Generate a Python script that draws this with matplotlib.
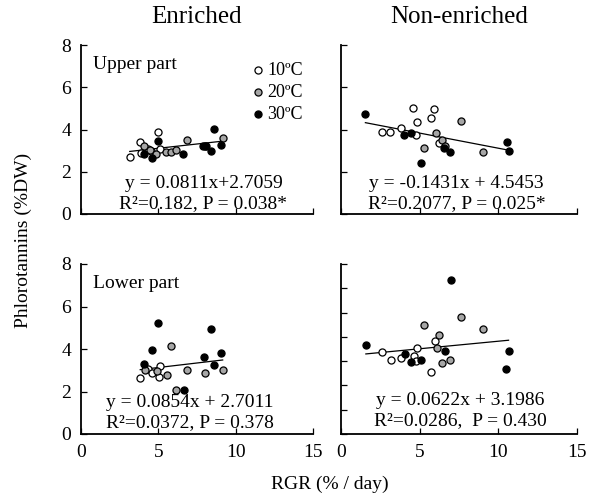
import matplotlib
matplotlib.use("Agg")
import matplotlib.pyplot as plt
import numpy as np

plt.rcParams['font.family'] = ['Liberation Serif', 'DejaVu Serif']

# ---------------- data ----------------
# Upper part, Enriched
ue_x10 = [3.15, 3.79, 3.88, 4.52, 5.0, 5.09, 4.35]
ue_y10 = [2.72, 3.40, 2.88, 3.0, 3.90, 3.07, 3.1]
ue_x20 = [4.07, 4.45, 4.87, 5.48, 5.8, 6.12, 6.87, 8.02, 9.16]
ue_y20 = [3.2, 3.05, 2.83, 2.92, 2.95, 3.03, 3.52, 3.22, 3.58]
ue_x30 = [4.09, 4.61, 5.0, 6.61, 7.89, 8.06, 8.42, 8.63, 9.03]
ue_y30 = [2.83, 2.67, 3.47, 2.84, 3.22, 3.22, 2.98, 4.01, 3.27]

# Upper part, Non-enriched
un_x10 = [2.6, 3.1, 3.8, 4.6, 4.8, 4.75, 5.7, 5.9, 6.2]
un_y10 = [3.87, 3.9, 4.08, 5.0, 4.35, 3.76, 4.56, 4.98, 3.36]
un_x20 = [5.25, 6.05, 6.4, 6.6, 7.65, 9.05]
un_y20 = [3.11, 3.84, 3.48, 3.24, 4.38, 2.95]
un_x30 = [1.55, 4.0, 4.45, 5.1, 6.55, 6.95, 10.55, 10.65]
un_y30 = [4.75, 3.75, 3.84, 2.42, 3.14, 2.95, 3.42, 2.97]

# Lower part, Enriched
le_x10 = [3.83, 4.35, 4.56, 5.05, 5.14]
le_y10 = [2.62, 3.05, 2.87, 2.7, 3.2]
le_x20 = [4.13, 4.9, 5.57, 5.79, 6.13, 6.88, 8.04, 9.16]
le_y20 = [3.03, 2.95, 2.76, 4.15, 2.05, 3.03, 2.87, 3.0]
le_x30 = [4.08, 4.62, 4.99, 6.65, 7.94, 8.43, 8.6, 9.05]
le_y30 = [3.28, 3.93, 5.23, 2.09, 3.62, 4.95, 3.23, 3.81]

# Lower part, Non-enriched
ln_x10 = [2.6, 3.15, 3.8, 4.65, 4.75, 4.85, 5.75, 5.95]
ln_y10 = [3.39, 3.03, 3.12, 3.22, 3.02, 3.53, 2.56, 3.83]
ln_x20 = [5.27, 6.08, 6.22, 6.4, 6.9, 7.65, 9.05]
ln_y20 = [4.49, 3.55, 4.07, 2.91, 3.05, 4.83, 4.31]
ln_x30 = [1.58, 4.05, 4.43, 5.1, 6.58, 6.96, 10.51, 10.65]
ln_y30 = [3.66, 3.28, 2.98, 3.05, 3.43, 6.36, 2.69, 3.42]

# regression coefficients (slope, intercept)
fit_ue = (0.0811, 2.7059)
fit_un = (-0.1431, 4.5453)
fit_le = (0.0854, 2.7011)
fit_ln = (0.0622, 3.1986)

eq_ue = ["y = 0.0811x+2.7059", "R²=0.182, P = 0.038*"]
eq_un = ["y = -0.1431x + 4.5453", "R²=0.2077, P = 0.025*"]
eq_le = ["y = 0.0854x + 2.7011", "R²=0.0372, P = 0.378"]
eq_ln = ["y = 0.0622x + 3.1986", "R²=0.0286,  P = 0.430"]

series_labels = ["10ºC", "20ºC", "30ºC"]
col_titles = ["Enriched", "Non-enriched"]
row_labels = ["Upper part", "Lower part"]
x_ticks = [0, 5, 10, 15]

# ---------------- figure ----------------
W, H = 589, 499
fig = plt.figure(figsize=(W / 100, H / 100), dpi=100)

def ax_rect(l, t, r, b):
    return [l / W, 1 - b / H, (r - l) / W, (b - t) / H]

ax_ue = fig.add_axes(ax_rect(81, 45, 313, 214))
ax_un = fig.add_axes(ax_rect(341, 45, 577, 214))
ax_le = fig.add_axes(ax_rect(81, 264, 313, 434))
ax_ln = fig.add_axes(ax_rect(341, 264, 577, 434))

face = ['white', '#a6a6a6', 'black']

panels = [
    (ax_ue, [(ue_x10, ue_y10), (ue_x20, ue_y20), (ue_x30, ue_y30)], fit_ue, eq_ue, (0.528, 0.154, 0.036), 8, 2),
    (ax_un, [(un_x10, un_y10), (un_x20, un_y20), (un_x30, un_y30)], fit_un, eq_un, (0.489, 0.154, 0.036), 8, 2),
    (ax_le, [(le_x10, le_y10), (le_x20, le_y20), (le_x30, le_y30)], fit_le, eq_le, (0.47, 0.159, 0.041), 8, 2),
    (ax_ln, [(ln_x10, ln_y10), (ln_x20, ln_y20), (ln_x30, ln_y30)], fit_ln, eq_ln, (0.504, 0.171, 0.053), 7, 1),
]

for i, (ax, series, fit, eq, tpos, ymax, ystep) in enumerate(panels):
    for (xs, ys), fc, lab in zip(series, face, series_labels):
        ax.scatter(xs, ys, s=26, facecolor=fc, edgecolor='black',
                   linewidths=0.9, zorder=3, label=lab)
    allx = np.concatenate([np.asarray(s[0]) for s in series])
    xl = np.array([allx.min(), allx.max()])
    ax.plot(xl, fit[0] * xl + fit[1], color='black', lw=0.9, zorder=2)
    ax.set_xlim(0, 15)
    ax.set_ylim(0, ymax)
    ax.set_xticks(x_ticks)
    ax.set_yticks(np.arange(0, ymax + 0.01, ystep))
    for s in ['top', 'right']:
        ax.spines[s].set_visible(False)
    for s in ['left', 'bottom']:
        ax.spines[s].set_linewidth(1.3)
    ax.tick_params(direction='in', length=4, width=0.9, labelsize=14,
                   pad=7)
    row = i // 2
    col = i % 2
    if row == 0:
        ax.tick_params(axis='x', labelbottom=False)
    if col == 1:
        ax.tick_params(axis='y', labelleft=False)
    ax.text(tpos[0], tpos[1], eq[0], transform=ax.transAxes, ha='center',
            va='baseline', fontsize=14, zorder=5)
    ax.text(tpos[0], tpos[2], eq[1], transform=ax.transAxes, ha='center',
            va='baseline', fontsize=14, zorder=5)
    if row == 0:
        ax.set_title(col_titles[col], fontsize=18, pad=16)
    if col == 0:
        ax.text(0.052, 0.858, row_labels[row], transform=ax.transAxes,
                ha='left', va='baseline', fontsize=14)

leg = ax_ue.legend(loc='upper right', bbox_to_anchor=(1.01, 0.975),
                   frameon=False, fontsize=13, handletextpad=0.0,
                   handlelength=1.0, labelspacing=0.28, borderaxespad=0.3,
                   scatterpoints=1)

fig.text(23 / W, 1 - 240 / H, "Phlorotannins (%DW)", rotation=90,
         ha='center', va='center', fontsize=14)
fig.text(330 / W, 1 - 484 / H, "RGR (% / day)", ha='center', va='center',
         fontsize=14)

fig.savefig("out.png", dpi=100)
